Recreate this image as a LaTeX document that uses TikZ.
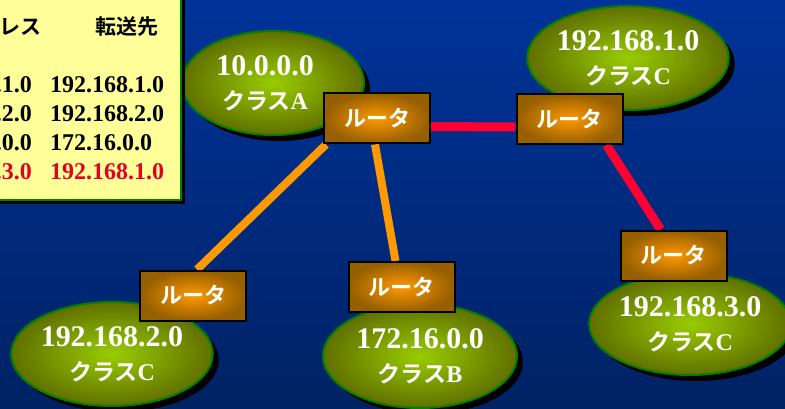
\documentclass[tikz,border=0pt]{standalone}
\usepackage{fontspec}
\setmainfont{Liberation Serif}
\newfontfamily\jp{Noto Sans CJK JP}[BoldFont={* Bold}]
\usetikzlibrary{shapes.geometric,shadows}
\pgfdeclarelayer{bg}
\pgfdeclarelayer{lines}
\pgfsetlayers{bg,lines,main}
\definecolor{bgtop}{RGB}{0,51,153}
\definecolor{bgbot}{RGB}{0,34,100}
\definecolor{olivein}{RGB}{153,204,0}
\definecolor{oliveout}{RGB}{96,112,0}
\definecolor{netline}{RGB}{0,128,0}
\definecolor{orin}{RGB}{255,153,0}
\definecolor{orout}{RGB}{150,95,0}
\definecolor{tabfill}{RGB}{255,255,153}
\definecolor{redline}{RGB}{255,0,51}
\definecolor{redtext}{RGB}{224,0,40}
\definecolor{orline}{RGB}{255,153,0}
\newcommand{\numfont}{\bfseries\fontsize{30}{34}\selectfont}
\newcommand{\kanafont}{\jp\bfseries\fontsize{23}{34}\selectfont}
\newcommand{\latfont}{\bfseries\fontsize{24}{34}\selectfont}
\newcommand{\tabnum}{\bfseries\fontsize{24}{28}\selectfont}
\begin{document}
\begin{tikzpicture}[x=1pt,y=-1pt,
  net/.style={ellipse, draw=netline, line width=2pt, inner color=olivein, outer color=oliveout,
    minimum width=#1, minimum height=104pt, inner sep=0pt, text=white, align=center,
    font=\fontsize{24}{34}\selectfont,
    drop shadow={shadow xshift=6pt, shadow yshift=-6pt, opacity=1, fill=black}},
  router/.style={rectangle, draw=black, line width=2pt, inner color=orin, outer color=orout,
    minimum width=106pt, minimum height=50pt, inner sep=0pt, text=white,
    font=\jp\bfseries\fontsize{22}{22}\selectfont},
  redln/.style={draw=redline, line width=9pt,
    preaction={draw=black, transform canvas={shift={(2pt,-2pt)}}}},
  orln/.style={draw=orline, line width=8pt,
    preaction={draw=black, transform canvas={shift={(2pt,-2pt)}}}},
  tabtxt/.style={inner sep=0pt, font=\tabnum},
  tabhd/.style={inner sep=0pt, font=\jp\bfseries\fontsize{21}{21}\selectfont}
]
\useasboundingbox (0,0) rectangle (785,409);

\begin{pgfonlayer}{bg}
\shade[top color=bgtop, bottom color=bgbot] (0,0) rectangle (785,409);
% networks
\node[net=182pt] (nA) at (273,83) {{\numfont 10.0.0.0}\hspace*{16pt}\\{\kanafont クラス}{\latfont A}\hspace*{16pt}};
\node[net=192pt] (nC1) at (628,58) {{\numfont 192.168.1.0}\\{\kanafont クラス}{\latfont C}};
\node[net=200pt] (nC2) at (112,354) {{\numfont 192.168.2.0}\\{\kanafont クラス}{\latfont C}};
\node[net=194pt] (nB) at (420,356) {{\numfont 172.16.0.0}\\{\kanafont クラス}{\latfont B}};
\node[net=188pt, minimum height=102pt] (nC3) at (690,324) {{\numfont 192.168.3.0}\\{\kanafont クラス}{\latfont C}};
% routing table
\fill[black] (-10,-10) rectangle (185,204);
\draw[draw=netline, line width=2pt, fill=tabfill] (-10,-10) rectangle (181,200);
\node[tabhd, anchor=east] (h1) at (42,27) {レス};
\node[tabhd, anchor=west] (h2) at (95,27) {転送先};
\node[tabtxt, anchor=base east] (a1) at (32,93) {.1.0};
\node[tabtxt, anchor=base east] (a2) at (32,122) {.2.0};
\node[tabtxt, anchor=base east] (a3) at (32,151) {.0.0};
\node[tabtxt, anchor=base east, text=redtext] (a4) at (32,180) {.3.0};
\node[tabtxt, anchor=base west] (b1) at (50,93) {192.168.1.0};
\node[tabtxt, anchor=base west] (b2) at (50,122) {192.168.2.0};
\node[tabtxt, anchor=base west] (b3) at (50,151) {172.16.0.0};
\node[tabtxt, anchor=base west, text=redtext] (b4) at (50,180) {192.168.1.0};
\end{pgfonlayer}

% routers
\node[router] (R1) at (377,118.5) {ルータ};
\node[router] (R2) at (569.5,119) {ルータ};
\node[router] (R4) at (193,295.5) {ルータ};
\node[router] (RB) at (401.5,287) {ルータ};
\node[router] (R3) at (673.5,255.5) {ルータ};

% connectors (behind routers)
\begin{pgfonlayer}{lines}
\draw[redln] ([yshift=-8pt]R1.east) -- ([yshift=-8pt]R2.west);
\draw[redln] ([xshift=37pt]R2.south) -- ([xshift=-13pt]R3.north);
\draw[orln] ([xshift=3pt]R1.south west) -- ([xshift=4pt]R4.north);
\draw[orln] ([xshift=-2pt]R1.south) -- ([xshift=-6pt]RB.north);
\end{pgfonlayer}
\end{tikzpicture}
\end{document}
